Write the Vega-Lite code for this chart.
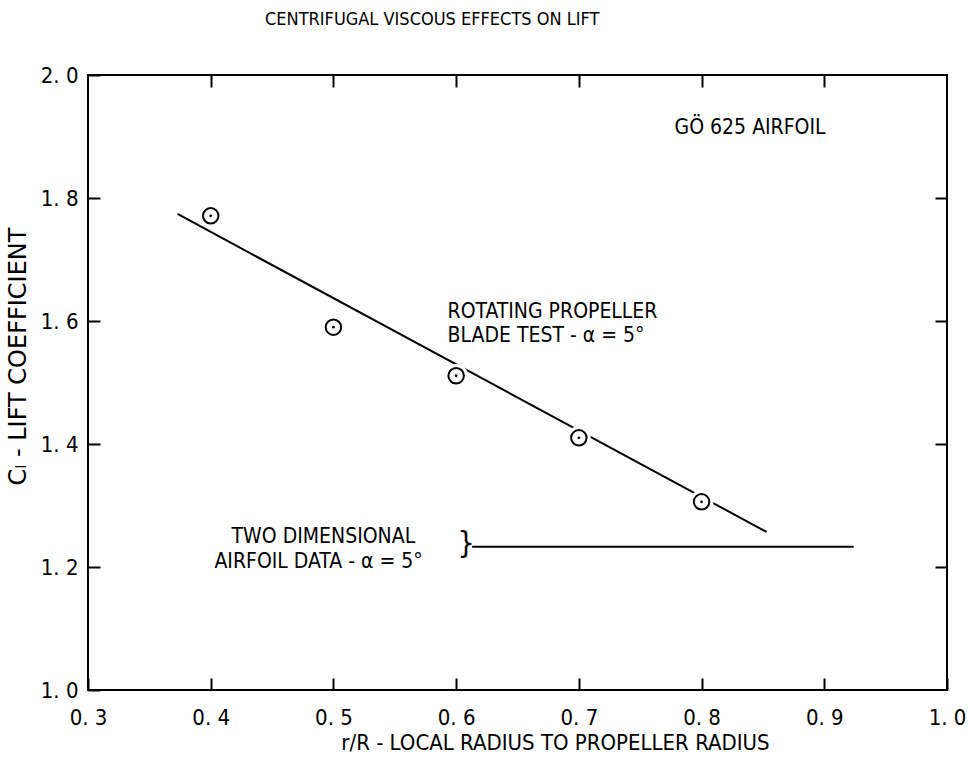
{
  "$schema": "https://vega.github.io/schema/vega-lite/v6.json",
  "width": 859,
  "height": 615,
  "autosize": {"type": "none"},
  "padding": {"left": 88, "top": 75, "right": 23, "bottom": 84},
  "background": "white",
  "config": {
    "view": {"stroke": "black", "strokeWidth": 2},
    "font": "DejaVu Sans Condensed, DejaVu Sans, sans-serif"
  },
  "title": {
    "text": "CENTRIFUGAL VISCOUS EFFECTS ON LIFT",
    "anchor": "start",
    "frame": "group",
    "dx": 177,
    "offset": 35,
    "fontSize": 18,
    "fontWeight": "normal",
    "color": "black"
  },
  "datasets": {
    "points": [
      {"r": 0.4, "cl": 1.771},
      {"r": 0.5, "cl": 1.59},
      {"r": 0.6, "cl": 1.511},
      {"r": 0.7, "cl": 1.41},
      {"r": 0.8, "cl": 1.306}
    ],
    "lines": [
      {"series": "rotating", "r": 0.373, "cl": 1.774},
      {"series": "rotating", "r": 0.853, "cl": 1.257},
      {"series": "twoD", "r": 0.613, "cl": 1.233},
      {"series": "twoD", "r": 0.924, "cl": 1.233}
    ],
    "notes": [
      {"r": 0.778, "cl": 1.914, "label": "GÖ 625 AIRFOIL"},
      {"r": 0.593, "cl": 1.615, "label": "ROTATING PROPELLER"},
      {"r": 0.593, "cl": 1.575, "label": "BLADE TEST - α = 5°"},
      {"r": 0.417, "cl": 1.248, "label": "TWO DIMENSIONAL"},
      {"r": 0.403, "cl": 1.208, "label": "AIRFOIL DATA - α = 5°"}
    ],
    "brace": [
      {"r": 0.608, "cl": 1.238, "label": "}"}
    ]
  },
  "layer": [
    {
      "data": {"name": "lines"},
      "mark": {"type": "line", "color": "black", "strokeWidth": 2},
      "encoding": {
        "x": {
          "field": "r", "type": "quantitative",
          "scale": {"domain": [0.3, 1.0], "nice": false, "zero": false},
          "axis": {
            "orient": "bottom", "offset": -12,
            "values": [0.3, 0.4, 0.5, 0.6, 0.7, 0.8, 0.9, 1.0],
            "domain": false, "grid": false,
            "tickSize": 12, "tickColor": "black", "tickWidth": 2,
            "labelPadding": 17, "labelFlush": false,
            "labelExpr": "replace(format(datum.value, '.1f'), '.', '. ')",
            "labelFontSize": 22, "labelColor": "black",
            "title": "r/R - LOCAL RADIUS TO PROPELLER RADIUS",
            "titleFontSize": 22, "titleFontWeight": "normal", "titleColor": "black",
            "titleX": 467, "titleY": 64, "titleBaseline": "middle"
          }
        },
        "y": {
          "field": "cl", "type": "quantitative",
          "scale": {"domain": [1.0, 2.0], "nice": false, "zero": false},
          "axis": {
            "orient": "left", "offset": -12,
            "values": [1.0, 1.2, 1.4, 1.6, 1.8, 2.0],
            "domain": false, "grid": false,
            "tickSize": 12, "tickColor": "black", "tickWidth": 2,
            "labelPadding": 10, "labelFlush": false,
            "labelExpr": "replace(format(datum.value, '.1f'), '.', '. ')",
            "labelFontSize": 22, "labelColor": "black",
            "title": "Cₗ - LIFT COEFFICIENT",
            "titleFont": "DejaVu Sans",
            "titleFontSize": 24, "titleFontWeight": "normal", "titleColor": "black",
            "titleX": -82, "titleY": 281, "titleBaseline": "middle"
          }
        },
        "detail": {"field": "series"}
      }
    },
    {
      "data": {"name": "points"},
      "mark": {"type": "point", "shape": "circle", "filled": true, "color": "white", "size": 560, "opacity": 1},
      "encoding": {
        "x": {"field": "r", "type": "quantitative", "axis": null},
        "y": {"field": "cl", "type": "quantitative", "axis": null}
      }
    },
    {
      "data": {"name": "points"},
      "mark": {"type": "point", "shape": "circle", "filled": false, "stroke": "black", "strokeWidth": 2, "size": 240, "opacity": 1},
      "encoding": {
        "x": {
          "field": "r", "type": "quantitative",
          "axis": {
            "orient": "top", "offset": -12, "values": [0.4, 0.5, 0.6, 0.7, 0.8, 0.9],
            "domain": false, "grid": false, "labels": false, "title": null,
            "tickSize": 12, "tickColor": "black", "tickWidth": 2
          }
        },
        "y": {
          "field": "cl", "type": "quantitative",
          "axis": {
            "orient": "right", "offset": -12, "values": [1.2, 1.4, 1.6, 1.8],
            "domain": false, "grid": false, "labels": false, "title": null,
            "tickSize": 12, "tickColor": "black", "tickWidth": 2
          }
        }
      }
    },
    {
      "data": {"name": "points"},
      "mark": {"type": "point", "shape": "circle", "filled": true, "color": "black", "size": 8, "opacity": 1},
      "encoding": {
        "x": {"field": "r", "type": "quantitative", "axis": null},
        "y": {"field": "cl", "type": "quantitative", "axis": null}
      }
    },
    {
      "data": {"name": "notes"},
      "mark": {"type": "text", "align": "left", "baseline": "middle", "fontSize": 21, "color": "black"},
      "encoding": {
        "x": {"field": "r", "type": "quantitative", "axis": null},
        "y": {"field": "cl", "type": "quantitative", "axis": null},
        "text": {"field": "label"}
      }
    },
    {
      "data": {"name": "brace"},
      "mark": {"type": "text", "align": "center", "baseline": "middle", "fontSize": 30, "color": "black"},
      "encoding": {
        "x": {"field": "r", "type": "quantitative", "axis": null},
        "y": {"field": "cl", "type": "quantitative", "axis": null},
        "text": {"field": "label"}
      }
    }
  ],
  "resolve": {"axis": {"x": "independent", "y": "independent"}}
}
